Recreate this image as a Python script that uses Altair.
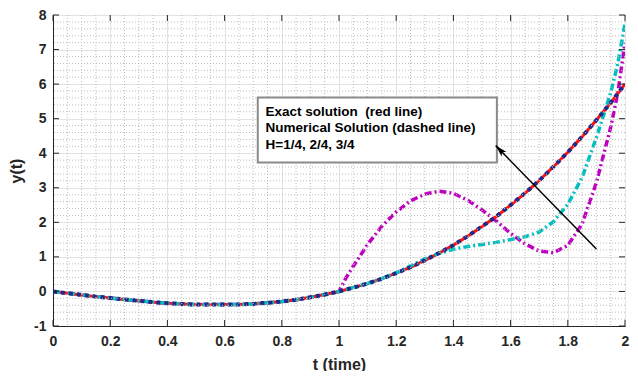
import altair as alt
import pandas as pd
import numpy as np

# ---- data ----
t_exact = [0.0, 0.05, 0.1, 0.15, 0.2, 0.25, 0.3, 0.35, 0.4, 0.45, 0.5, 0.55, 0.6, 0.65, 0.7,
           0.75, 0.8, 0.85, 0.9, 0.95, 1.0, 1.05, 1.1, 1.15, 1.2, 1.25, 1.3, 1.35, 1.4, 1.45,
           1.5, 1.55, 1.6, 1.65, 1.7, 1.75, 1.8, 1.85, 1.9, 1.95, 2.0]
y_exact = [0.0, -0.05, -0.10, -0.15, -0.19, -0.23, -0.27, -0.31, -0.34, -0.36, -0.38, -0.38,
           -0.38, -0.38, -0.36, -0.33, -0.29, -0.24, -0.17, -0.09, 0.0, 0.11, 0.23, 0.37, 0.53,
           0.70, 0.90, 1.11, 1.34, 1.60, 1.88, 2.17, 2.50, 2.84, 3.21, 3.61, 4.03, 4.48, 4.96,
           5.46, 6.00]

t_cyan = [0.0, 0.05, 0.1, 0.15, 0.2, 0.25, 0.3, 0.35, 0.4, 0.45, 0.5, 0.55, 0.6, 0.65, 0.7,
          0.75, 0.8, 0.85, 0.9, 0.95, 1.0, 1.05, 1.1, 1.15, 1.2, 1.25, 1.3, 1.35, 1.4, 1.45,
          1.5, 1.55, 1.6, 1.65, 1.7, 1.75, 1.8, 1.85, 1.9, 1.95, 1.975, 2.0]
y_cyan = [0.0, -0.05, -0.10, -0.15, -0.19, -0.23, -0.27, -0.31, -0.34, -0.36, -0.38, -0.38,
          -0.38, -0.38, -0.36, -0.33, -0.29, -0.24, -0.17, -0.09, 0.0, 0.11, 0.23, 0.37, 0.54,
          0.74, 0.94, 1.10, 1.22, 1.30, 1.36, 1.42, 1.50, 1.58, 1.72, 2.02, 2.52, 3.30, 4.45,
          5.75, 6.60, 7.75]

t_mag = [0.0, 0.05, 0.1, 0.15, 0.2, 0.25, 0.3, 0.35, 0.4, 0.45, 0.5, 0.55, 0.6, 0.65, 0.7,
         0.75, 0.8, 0.85, 0.9, 0.95, 1.0, 1.025, 1.05, 1.1, 1.15, 1.2, 1.25, 1.3, 1.35, 1.4,
         1.45, 1.5, 1.55, 1.6, 1.65, 1.7, 1.75, 1.8, 1.85, 1.9, 1.95, 1.975, 2.0]
y_mag = [0.0, -0.05, -0.10, -0.15, -0.19, -0.23, -0.27, -0.31, -0.34, -0.36, -0.38, -0.38,
         -0.38, -0.38, -0.36, -0.33, -0.29, -0.24, -0.17, -0.09, 0.0, 0.40, 0.73, 1.36, 1.89,
         2.30, 2.62, 2.82, 2.90, 2.84, 2.64, 2.36, 2.04, 1.68, 1.38, 1.17, 1.12, 1.33, 1.95,
         3.15, 4.75, 5.75, 7.20]

x_ticks = [0, 0.2, 0.4, 0.6, 0.8, 1.0, 1.2, 1.4, 1.6, 1.8, 2.0]
y_ticks = [-1, 0, 1, 2, 3, 4, 5, 6, 7, 8]
x_minor = [round(v, 2) for v in np.arange(0, 2.001, 0.05) if round(v / 0.2, 6) % 1 != 0]
y_minor = [round(v, 2) for v in np.arange(-1, 8.001, 0.2) if round(v, 6) % 1 != 0]

legend_lines = ["Exact solution\u00a0 (red line)", "Numerical Solution (dashed line)", "H=1/4, 2/4, 3/4"]
legend_line_y = [5.09, 4.62, 4.13]
legend_text_t = 0.743
legend_box = {"t0": 0.716, "t1": 1.552, "y0": 3.73, "y1": 5.61}
arrow = {"t_tail": 1.900, "y_tail": 1.23, "t_tip": 1.548, "y_tip": 4.22}

W, H = 572, 311
AXC = "#262626"

xs = alt.Scale(domain=[0, 2], nice=False, zero=False)
ys = alt.Scale(domain=[-1, 8], nice=False, zero=False)

x_axis = alt.Axis(values=x_ticks, format="~g", title="t (time)", labelPadding=8,
                  titlePadding=8, labelOverlap=False)
y_axis = alt.Axis(values=y_ticks, title="y(t)", labelPadding=7, titlePadding=9,
                  labelOverlap=False,
                  labelExpr="datum.value < 0 ? '-' + abs(datum.value) : '' + datum.value")


def hx(field):
    return alt.X(field, scale=xs, axis=x_axis)


def hy(field):
    return alt.Y(field, scale=ys, axis=y_axis)


df_exact = pd.DataFrame({"t": t_exact, "y": y_exact})
df_cyan = pd.DataFrame({"t": t_cyan, "y": y_cyan})
df_mag = pd.DataFrame({"t": t_mag, "y": y_mag})

minor_x = alt.Chart(pd.DataFrame({"v": x_minor})).mark_rule(
    color="#bdbdbd", strokeWidth=1, strokeDash=[1, 2]).encode(x=hx("v:Q"))
minor_y = alt.Chart(pd.DataFrame({"v": y_minor})).mark_rule(
    color="#bdbdbd", strokeWidth=1, strokeDash=[1, 2]).encode(y=hy("v:Q"))

tick_color = AXC
xt = pd.DataFrame({"v": x_ticks})
yt = pd.DataFrame({"v": y_ticks})
tick_b = alt.Chart(xt).mark_rule(color=tick_color).encode(
    x=hx("v:Q"), y=alt.value(H), y2=alt.value(H - 6))
tick_t = alt.Chart(xt).mark_rule(color=tick_color).encode(
    x=hx("v:Q"), y=alt.value(0), y2=alt.value(6))
tick_l = alt.Chart(yt).mark_rule(color=tick_color).encode(
    y=hy("v:Q"), x=alt.value(0), x2=alt.value(6))
tick_r = alt.Chart(yt).mark_rule(color=tick_color).encode(
    y=hy("v:Q"), x=alt.value(W), x2=alt.value(W - 6))

mag = alt.Chart(df_mag).mark_line(color="#bf00bf", strokeWidth=3.5, strokeDash=[7, 3, 2, 3],
                                  clip=True).encode(x=hx("t:Q"), y=hy("y:Q"))
red = alt.Chart(df_exact).mark_line(color="#ff1010", strokeWidth=3, clip=True).encode(
    x=hx("t:Q"), y=hy("y:Q"))
cyan = alt.Chart(df_cyan).mark_line(color="#00bfbf", strokeWidth=3.5, strokeDash=[7, 3, 2, 3],
                                    clip=True).encode(x=hx("t:Q"), y=hy("y:Q"))
blue = alt.Chart(df_exact).mark_line(color="#1c2a8c", strokeWidth=4, strokeDash=[4, 4],
                                     clip=True).encode(x=hx("t:Q"), y=hy("y:Q"))

box = alt.Chart(pd.DataFrame([legend_box])).mark_rect(
    fill="white", stroke="#8a8a8a", strokeWidth=2).encode(
    x=hx("t0:Q"), x2="t1:Q", y=hy("y0:Q"), y2="y1:Q")
txt = alt.Chart(pd.DataFrame({"label": legend_lines, "y": legend_line_y,
                              "t": [legend_text_t] * 3})).mark_text(
    align="left", baseline="alphabetic", font="Liberation Sans", fontSize=13.5,
    fontWeight="bold", color="black").encode(
    x=hx("t:Q"), y=hy("y:Q"), text="label:N")

arr_line = alt.Chart(pd.DataFrame([arrow])).mark_rule(color="black", strokeWidth=1.5).encode(
    x=hx("t_tail:Q"), y=hy("y_tail:Q"), x2="t_tip:Q", y2="y_tip:Q")
arr_head = alt.Chart(pd.DataFrame([arrow])).mark_point(
    shape="M0,0 L-0.45,1.6 L0,1.2 L0.45,1.6 Z", size=225, filled=True, opacity=1,
    color="black", angle=316).encode(
    x=hx("t_tip:Q"), y=hy("y_tip:Q"))

chart = alt.layer(
    mag, red, cyan, blue, minor_x, minor_y, tick_b, tick_t, tick_l, tick_r,
    box, txt, arr_line, arr_head
).properties(
    width=W, height=H,
    padding={"left": 45, "top": 7, "right": 5, "bottom": 45},
    autosize=alt.AutoSizeParams(type="none"),
).configure_axis(
    labelFont="Liberation Sans", labelFontSize=14, labelFontWeight="bold", labelColor=AXC,
    titleFont="Liberation Sans", titleFontSize=16, titleFontWeight="bold", titleColor=AXC,
    domainColor=AXC, domainWidth=1, ticks=False, grid=True, gridColor="#e3e3e3",
    gridWidth=1, labelFlush=False, labelOverlap=False,
).configure_view(stroke=AXC, strokeWidth=1)

chart.save("out.html", embed_options={"renderer": "svg", "actions": False})
